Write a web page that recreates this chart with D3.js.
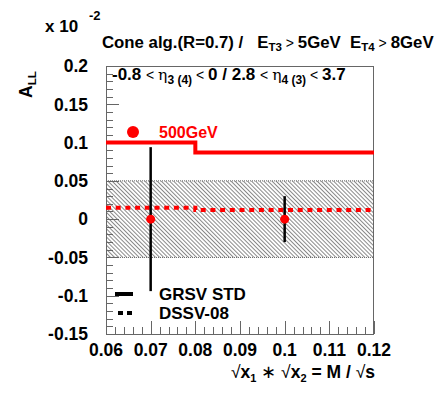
<!DOCTYPE html>
<html>
<head>
<meta charset="utf-8">
<script src="https://cdn.jsdelivr.net/npm/d3@7"></script>
<style>
html,body{margin:0;padding:0;background:#fff;}
svg{display:block;}
text{font-family:"Liberation Sans",Arial,Helvetica,sans-serif;}
</style>
</head>
<body>
<script>
// ---- data ----
const binEdges = [0.06, 0.08, 0.12];
const grsvStd = [0.1, 0.087];
const dssv08 = [0.015, 0.012];
const pointX = [0.07, 0.1];
const pointY = [0, 0];
const pointErr = [0.094, 0.030];
const bandRange = [-0.05, 0.05];
const xTicks = [0.06, 0.07, 0.08, 0.09, 0.1, 0.11, 0.12];
const xTickLabels = ["0.06", "0.07", "0.08", "0.09", "0.1", "0.11", "0.12"];
const yTicks = [-0.15, -0.1, -0.05, 0, 0.05, 0.1, 0.15, 0.2];
const yTickLabels = ["-0.15", "-0.1", "-0.05", "0", "0.05", "0.1", "0.15", "0.2"];
const legendLabels = ["GRSV STD", "DSSV-08"];
const energyLabel = "500GeV";

const W = 444, H = 397;
const L = 106, R = 374, T = 66, B = 334;
const red = "#ff0000";

const svg = d3.select("body").append("svg").attr("width", W).attr("height", H);
const x = d3.scaleLinear().domain([0.06, 0.12]).range([L, R]);
const y = d3.scaleLinear().domain([-0.15, 0.2]).range([B, T]);

// hatch pattern
const defs = svg.append("defs");
const pat = defs.append("pattern").attr("id", "hatch").attr("patternUnits", "userSpaceOnUse")
  .attr("width", 2.9).attr("height", 2.9).attr("patternTransform", "rotate(-45)");
pat.append("line").attr("x1", 0.5).attr("y1", 0).attr("x2", 0.5).attr("y2", 2.9)
  .attr("stroke", "#888").attr("stroke-width", 1);

// band
svg.append("rect").attr("x", x(0.06)).attr("width", x(0.12) - x(0.06))
  .attr("y", y(bandRange[1])).attr("height", y(bandRange[0]) - y(bandRange[1]))
  .attr("fill", "url(#hatch)");
[bandRange[0], bandRange[1]].forEach(v => {
  svg.append("line").attr("x1", x(0.06)).attr("x2", x(0.12)).attr("y1", y(v)).attr("y2", y(v))
    .attr("stroke", "#666").attr("stroke-width", 1).attr("stroke-dasharray", "1,1");
});

// frame
svg.append("rect").attr("x", L + 0.5).attr("y", T + 0.5).attr("width", R - L - 1).attr("height", B - T)
  .attr("fill", "none").attr("stroke", "#666").attr("stroke-width", 1);

// y axis ticks (inside)
const yMinor = d3.range(-15, 21).map(i => i / 100);
svg.append("g").selectAll("line").data(yMinor).join("line")
  .attr("x1", L).attr("x2", d => L + ((Math.round(d * 100) % 5 === 0) ? 13 : 7))
  .attr("y1", d => Math.round(y(d)) + 0.5).attr("y2", d => Math.round(y(d)) + 0.5)
  .attr("stroke", "#666").attr("stroke-width", 1);
// x axis ticks (inside)
const xMinor = d3.range(30, 61).map(i => i / 500);
svg.append("g").selectAll("line").data(xMinor).join("line")
  .attr("x1", d => Math.round(x(d)) + 0.5).attr("x2", d => Math.round(x(d)) + 0.5)
  .attr("y1", B).attr("y2", (d, i) => B - ((i % 5 === 0) ? 13 : 7))
  .attr("stroke", "#666").attr("stroke-width", 1);

// tick labels
svg.append("g").selectAll("text").data(yTicks).join("text")
  .attr("x", 88).attr("y", d => y(d)).attr("dy", "0.36em")
  .attr("text-anchor", "end").attr("font-size", 17.5).attr("font-weight", "bold")
  .text((d, i) => yTickLabels[i]);
svg.append("g").selectAll("text").data(xTicks).join("text")
  .attr("x", d => x(d)).attr("y", 356)
  .attr("text-anchor", "middle").attr("font-size", 17.5).attr("font-weight", "bold")
  .text((d, i) => xTickLabels[i]);

// step lines
function stepData(vals) {
  const pts = [];
  vals.forEach((v, i) => { pts.push([binEdges[i], v]); pts.push([binEdges[i + 1], v]); });
  return pts;
}
const line = d3.line().x(d => x(d[0])).y(d => y(d[1]));
svg.append("path").attr("d", line(stepData(grsvStd))).attr("fill", "none")
  .attr("stroke", red).attr("stroke-width", 4);
svg.append("path").attr("d", line(stepData(dssv08))).attr("fill", "none")
  .attr("stroke", red).attr("stroke-width", 4).attr("stroke-dasharray", "5,4.7");

// error bars and points
pointX.forEach((px, i) => {
  svg.append("line").attr("x1", x(px)).attr("x2", x(px))
    .attr("y1", y(pointY[i] + pointErr[i])).attr("y2", y(pointY[i] - pointErr[i]))
    .attr("stroke", "#000").attr("stroke-width", 2.5);
  svg.append("circle").attr("cx", x(px)).attr("cy", y(pointY[i])).attr("r", 4.5).attr("fill", red);
});

// energy legend
svg.append("circle").attr("cx", 133).attr("cy", 132).attr("r", 6).attr("fill", red);
svg.append("text").attr("x", 159).attr("y", 137.5).attr("font-size", 16).attr("font-weight", "bold")
  .attr("fill", red).text(energyLabel);

// legend
svg.append("line").attr("x1", 115).attr("x2", 133).attr("y1", 294).attr("y2", 294)
  .attr("stroke", "#000").attr("stroke-width", 4);
svg.append("line").attr("x1", 118).attr("x2", 133).attr("y1", 313).attr("y2", 313)
  .attr("stroke", "#000").attr("stroke-width", 4).attr("stroke-dasharray", "5,4");
svg.append("text").attr("x", 159).attr("y", 299.5).attr("font-size", 17).attr("font-weight", "bold").text(legendLabels[0]);
svg.append("text").attr("x", 159).attr("y", 318.5).attr("font-size", 17).attr("font-weight", "bold").text(legendLabels[1]);

// exponent
svg.append("text").attr("x", 45).attr("y", 32).attr("font-size", 17).attr("font-weight", "bold").text("x 10");
svg.append("text").attr("x", 89).attr("y", 20).attr("font-size", 13).attr("font-weight", "bold").text("-2");

// y title
const yt = svg.append("text").attr("transform", "translate(32,98) rotate(-90)")
  .attr("font-size", 17.5).attr("font-weight", "bold");
yt.append("tspan").text("A");
yt.append("tspan").attr("font-size", 11.5).attr("dy", 4).text("LL");

// top title
const tt = svg.append("text").attr("x", 102).attr("y", 48).attr("font-size", 16.8).attr("font-weight", "bold");
tt.append("tspan").text("Cone alg.(R=0.7) /\u00a0\u00a0 E");
tt.append("tspan").attr("font-size", 11.5).attr("dy", 3).text("T3");
tt.append("tspan").attr("dy", -3).attr("font-weight", "normal").attr("font-size", 14).text(" > ");
tt.append("tspan").text("5GeV\u00a0 E");
tt.append("tspan").attr("font-size", 11.5).attr("dy", 3).text("T4");
tt.append("tspan").attr("dy", -3).attr("font-weight", "normal").attr("font-size", 14).text(" > ");
tt.append("tspan").text("8GeV");

// eta range text
const et = svg.append("text").attr("x", 112).attr("y", 80).attr("font-size", 17).attr("font-weight", "bold");
et.append("tspan").text("-0.8 ");
et.append("tspan").attr("font-weight", "normal").attr("font-size", 14).text("< ");
et.append("tspan").attr("font-weight", "normal").attr("font-family", "DejaVu Serif").attr("font-size", 15.5).text("\u03b7");
et.append("tspan").attr("font-size", 12).attr("dy", 4).text("3 (4)");
et.append("tspan").attr("dy", -4).attr("font-weight", "normal").attr("font-size", 14).text(" < ");
et.append("tspan").text("0 / 2.8 ");
et.append("tspan").attr("font-weight", "normal").attr("font-size", 14).text("< ");
et.append("tspan").attr("font-weight", "normal").attr("font-family", "DejaVu Serif").attr("font-size", 15.5).text("\u03b7");
et.append("tspan").attr("font-size", 12).attr("dy", 4).text("4 (3)");
et.append("tspan").attr("dy", -4).attr("font-weight", "normal").attr("font-size", 14).text(" < ");
et.append("tspan").text("3.7");

// x title
const xt = svg.append("text").attr("x", 375).attr("y", 378).attr("text-anchor", "end")
  .attr("font-size", 17.5).attr("font-weight", "bold");
xt.append("tspan").attr("font-weight", "normal").text("\u221a");
xt.append("tspan").text("x");
xt.append("tspan").attr("font-size", 11).attr("dy", 4).text("1");
xt.append("tspan").attr("dy", -4).attr("font-weight", "normal").text(" \u2217 ");
xt.append("tspan").attr("font-weight", "normal").text("\u221a");
xt.append("tspan").text("x");
xt.append("tspan").attr("font-size", 11).attr("dy", 4).text("2");
xt.append("tspan").attr("dy", -4).text(" = M / ");
xt.append("tspan").attr("font-weight", "normal").text("\u221a");
xt.append("tspan").text("s");
</script>
</body>
</html>
